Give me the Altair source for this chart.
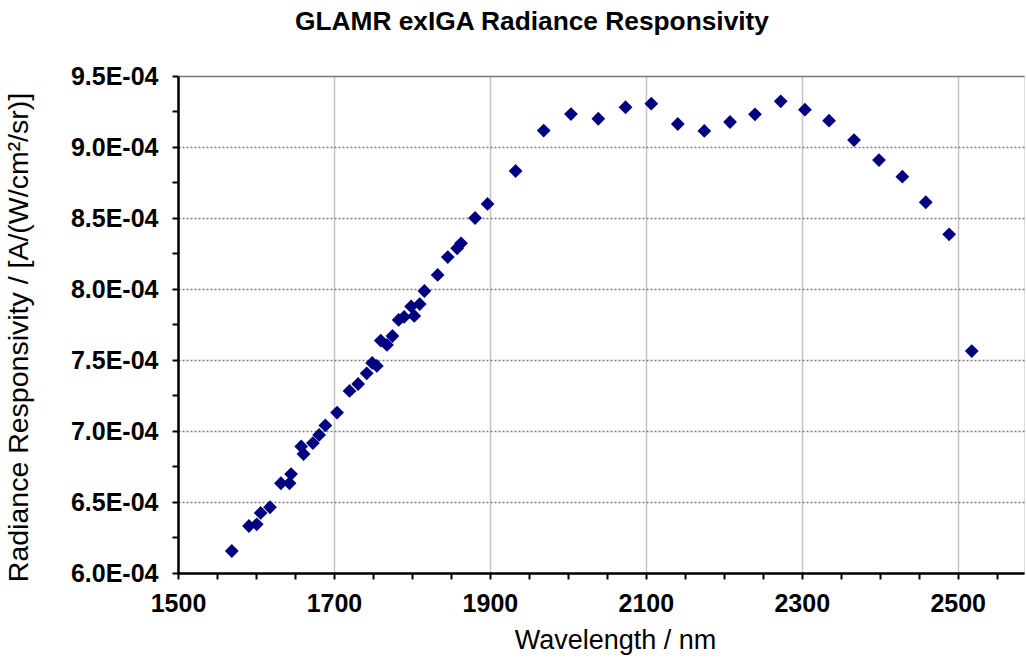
import altair as alt
import pandas as pd

# Wavelength (nm) and radiance responsivity (units of 1E-04 A/(W/cm^2/sr))
wavelength_nm = [1569, 1591, 1601, 1606, 1618, 1632, 1643, 1645, 1658, 1661,
                 1673, 1681, 1689, 1704, 1720, 1731, 1742, 1749, 1755, 1760,
                 1768, 1775, 1783, 1790, 1799, 1803, 1810, 1816, 1833, 1846,
                 1858, 1863, 1881, 1897, 1933, 1969, 2004, 2039, 2074, 2107,
                 2141, 2175, 2208, 2240, 2273, 2304, 2335, 2367, 2399, 2429,
                 2459, 2489, 2518]
responsivity_e4 = [6.155, 6.331, 6.343, 6.423, 6.463, 6.632, 6.632, 6.697, 6.891, 6.838,
                   6.915, 6.972, 7.039, 7.130, 7.282, 7.331, 7.406, 7.479, 7.458, 7.637,
                   7.606, 7.669, 7.782, 7.803, 7.877, 7.810, 7.894, 7.986, 8.099, 8.225,
                   8.287, 8.322, 8.500, 8.599, 8.831, 9.116, 9.232, 9.199, 9.280, 9.305,
                   9.162, 9.113, 9.176, 9.230, 9.322, 9.263, 9.185, 9.049, 8.908, 8.791,
                   8.611, 8.385, 7.563]

x_tick_values = list(range(1500, 2600, 50))
y_tick_values = [i * 0.25e-4 for i in range(24, 39)]

df = pd.DataFrame({
    "wavelength": wavelength_nm,
    "responsivity": [v * 1e-4 for v in responsivity_e4],
})

FONT = "Liberation Sans"

x_axis = alt.Axis(
    values=x_tick_values,
    format="d",
    labelExpr="(datum.value - 1500) % 200 == 0 ? datum.label : ''",
    labelFont=FONT, labelFontSize=25, labelFontWeight="bold", labelColor="black",
    labelPadding=12, labelFlush=False, labelOverlap=False, labelBound=False,
    tickSize=6, tickWidth=2, tickColor="black",
    domainColor="black", domainWidth=2.5,
    grid=True, gridColor="#c4c4c4", gridWidth=1.5,
    gridOpacity={"condition": {"test": "(datum.value - 1500) % 200 == 0", "value": 1}, "value": 0},
    title="Wavelength / nm",
    titleFont=FONT, titleFontSize=27, titleFontWeight="normal", titleColor="black",
    titleX=437, titleY=54, titleBaseline="top",
)

y_axis = alt.Axis(
    values=y_tick_values,
    labelExpr="abs(datum.value*2e4 - round(datum.value*2e4)) < 1e-6 ? format(datum.value*1e4, '.1f') + 'E-04' : ''",
    labelFont=FONT, labelFontSize=25, labelFontWeight="bold", labelColor="black",
    labelPadding=14, labelOverlap=False, labelBound=False, labelFlush=False,
    tickSize=6, tickWidth=2, tickColor="black",
    domainColor="black", domainWidth=2.5,
    grid=True, gridColor="#7a7a7a", gridWidth=1.5,
    gridDash={"condition": {"test": "datum.value > 9.49e-4", "value": []}, "value": [2, 2]},
    gridOpacity={"condition": {"test": "abs(datum.value*2e4 - round(datum.value*2e4)) < 1e-6", "value": 1}, "value": 0},
    title="Radiance Responsivity / [A/(W/cm²/sr)]",
    titleFont=FONT, titleFontSize=28.5, titleFontWeight="normal", titleColor="black",
    titleX=-145, titleY=261, titleAngle=270, titleBaseline="bottom", titleAlign="center",
)

chart = alt.Chart(df).mark_point(
    shape="diamond", filled=True, size=190, color="#000080", opacity=1
).encode(
    x=alt.X("wavelength:Q", scale=alt.Scale(domain=[1500, 2585], nice=False, zero=False), axis=x_axis),
    y=alt.Y("responsivity:Q", scale=alt.Scale(domain=[6.0e-4, 9.5e-4], nice=False, zero=False), axis=y_axis),
).properties(
    width=846,
    height=497,
    title=alt.TitleParams(
        text="GLAMR exIGA Radiance Responsivity",
        font=FONT, fontSize=26.3, fontWeight="bold", color="black",
        anchor="middle", frame="group", dx=-69, offset=29,
    ),
    autosize=alt.AutoSizeParams(type="none"),
    padding={"left": 178, "top": 76, "right": 2, "bottom": 85},
).configure_view(stroke=None).configure(background="white")

chart.save("out.html", embed_options={"renderer": "svg", "actions": False})
